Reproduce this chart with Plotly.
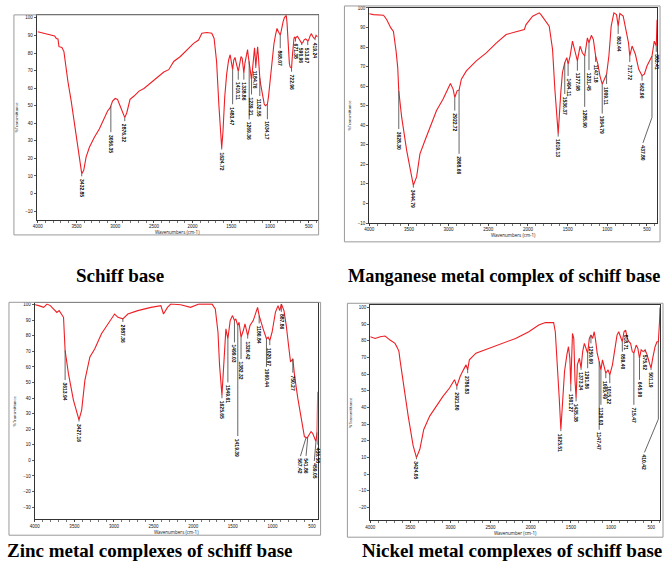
import numpy as np
import plotly.graph_objects as go

W, H = 665, 562

# ---------------- data (wavenumber cm-1, %T) ----------------
schiff_points = [(4000, 92.1), (3910, 91.2), (3825, 90.2), (3782, 89.7), (3761, 88.3), (3739, 88), (3726, 83.6),
                 (3688, 83.1), (3662, 80.8), (3645, 74.2), (3632, 72.4), (3611, 63.9), (3568, 52.6), (3526, 39.5),
                 (3483, 24.4), (3449, 14.1), (3432, 11.3), (3406, 13.2), (3376, 20.7), (3333, 26.3), (3269, 32),
                 (3205, 36.7), (3141, 42.3), (3098, 47), (3064, 48.9), (3034, 52.6), (3000, 54.1), (2970, 53.6),
                 (2936, 49.8), (2906, 46), (2876, 43.2), (2850, 46), (2808, 53.6), (2756, 55.5), (2692, 58.3),
                 (2628, 59.8), (2543, 63), (2457, 65.8), (2372, 69.2), (2308, 70.5), (2244, 75.2), (2158, 78),
                 (2073, 81.8), (1987, 85.5), (1923, 87.4), (1880, 91.2), (1816, 91.7), (1752, 91.2), (1722, 88.3),
                 (1690, 75), (1660, 50), (1640, 33), (1624, 26), (1608, 35), (1585, 55), (1560, 68), (1535, 76),
                 (1515, 79), (1498, 74), (1483, 70.5), (1468, 76), (1452, 77.5), (1440, 75), (1425, 71), (1410, 69.5),
                 (1395, 73), (1375, 78), (1360, 77), (1348, 72), (1338, 68.6), (1325, 74), (1305, 80), (1290, 82),
                 (1280, 78), (1269, 75.2), (1255, 70), (1239, 64.8), (1225, 72), (1210, 82), (1200, 83), (1192, 78),
                 (1184, 72.4), (1172, 78), (1160, 83.5), (1150, 78), (1140, 70), (1132, 65.8), (1120, 62), (1105, 58),
                 (1090, 54), (1075, 51), (1060, 50), (1045, 50.5), (1034, 50.8), (1020, 55), (1005, 62), (990, 70),
                 (970, 78), (950, 85), (930, 90), (910, 94), (890, 92), (880, 90.5), (868, 90.2), (858, 92), (845, 96),
                 (830, 98), (815, 100), (800, 101), (790, 101.5), (780, 97), (770, 88), (760, 80), (750, 74), (740, 72),
                 (730, 71.5), (722, 71.4), (712, 78), (700, 85), (690, 88.5), (680, 89), (671, 88.3), (660, 89),
                 (645, 89.5), (625, 88), (610, 87), (590, 85.5), (575, 86), (560, 87.5), (540, 88), (525, 87.5),
                 (513, 86.5), (500, 87.5), (480, 90), (465, 91), (450, 89.5), (435, 88.5), (419, 88.3), (405, 90),
                 (385, 89)]
schiff_peak_wn = [3432, 3056, 2876, 1624, 1483, 1410, 1338, 1269, 1239, 1184, 1132, 1034, 868, 722, 671, 590, 513, 419]
schiff_label_wn = [3432, 3056, 2876, 1624, 1483, 1410, 1338, 1269, 1239, 1184, 1132, 1034, 868, 722, 671, 590, 513, 419]
schiff_peak_text = ["3432.85", "3056.35", "2876.32", "1624.72", "1483.47", "1410.11", "1338.86", "1269.36", "1239.21",
                    "1184.76", "1132.55", "1034.17", "868.07", "722.96", "671.38", "590.96", "513.67", "419.24"]

mn_points = [(4000, 97), (3946, 96.6), (3820, 96.3), (3779, 94), (3728, 89.8), (3695, 88), (3662, 78), (3641, 69.5),
             (3628, 57.6), (3591, 44), (3528, 27), (3478, 15.3), (3444, 9.3), (3403, 13.6), (3361, 25.4), (3298, 32.2),
             (3236, 39), (3152, 47.5), (3069, 53.4), (3006, 58.5), (2977, 61.4), (2943, 58.5), (2922, 54.2),
             (2893, 57.6), (2868, 58), (2839, 63.6), (2776, 67.8), (2651, 72.9), (2525, 77), (2400, 82), (2275, 86.4),
             (2150, 87.8), (2045, 89), (2024, 91.5), (1941, 95.8), (1857, 97.5), (1836, 96.6), (1732, 90.7),
             (1690, 78.8), (1661, 58.5), (1619, 35.6), (1586, 56.8), (1565, 67), (1536, 72), (1510, 74.6),
             (1494, 71.2), (1469, 75.4), (1439, 83), (1410, 78.8), (1377, 72.9), (1343, 80.5), (1314, 77.1),
             (1285, 75.4), (1251, 84.7), (1231, 82.2), (1201, 86), (1176, 83.9), (1147, 75.4), (1118, 71.2),
             (1093, 65.3), (1064, 61), (1034, 64.4), (1009, 66.1), (980, 75.4), (951, 90.7), (917, 97.5), (884, 96.6),
             (863, 90.7), (842, 97.1), (800, 95.8), (759, 88.1), (733, 82.2), (717, 75.4), (688, 80.5), (646, 76.3),
             (604, 68.6), (562, 65.3), (533, 66.1), (500, 70.3), (458, 73.7), (437, 75.4), (408, 83), (383, 80.5),
             (373, 94)]
mn_peak_wn = [3628, 3444, 2922, 2868, 1619, 1536, 1494, 1377, 1285, 1231, 1147, 1064, 1009, 863, 717, 562, 437, 383]
mn_label_wn = [3628, 3444, 2922, 2868, 1619, 1536, 1494, 1377, 1285, 1231, 1147, 1064, 1009, 863, 717, 562, 550, 383]
mn_peak_text = ["3628.30", "3444.79", "2922.72", "2868.66", "1619.13", "1536.37", "1494.11", "1377.98", "1285.90",
                "1231.45", "1147.18", "1064.79", "1009.11", "863.44", "717.72", "562.96", "437.80", "383.41"]

zn_points = [(4000, 100), (3992, 100), (3950, 99.4), (3888, 98.3), (3846, 100.4), (3804, 99.4), (3762, 97.2),
             (3721, 95), (3692, 96.2), (3658, 93), (3637, 91.9), (3617, 70.6), (3575, 55.7), (3512, 38.7), (3470, 30),
             (3442, 26), (3408, 32.3), (3367, 51.5), (3304, 66.4), (3242, 71.7), (3158, 81.3), (3075, 87.7),
             (3012, 93), (2992, 94), (2950, 91.9), (2888, 90.9), (2825, 94), (2700, 96.2), (2533, 98.3), (2408, 99.4),
             (2375, 94), (2325, 98.3), (2283, 100.4), (2158, 100), (2033, 98.3), (1929, 100.4), (1762, 100.4),
             (1721, 97.2), (1687, 82.3), (1667, 61), (1637, 41.9), (1617, 61), (1587, 84.5), (1562, 78.1),
             (1533, 89.8), (1504, 93), (1479, 89.8), (1462, 90.9), (1437, 86.6), (1421, 88.7), (1396, 79.1),
             (1367, 83.4), (1346, 87.7), (1312, 80.2), (1283, 86.6), (1242, 89.8), (1212, 95.1), (1187, 98.3),
             (1167, 93), (1146, 88.7), (1117, 84.5), (1075, 78.1), (1054, 79.1), (1033, 77), (1004, 82.3), (962, 95.1),
             (929, 99.4), (908, 96.2), (887, 100.4), (854, 96.2), (825, 86.6), (796, 73.8), (771, 63.2), (742, 65.3),
             (721, 54.7), (679, 39.8), (637, 27), (596, 15.3), (562, 14.3), (533, 16.4), (512, 18.5), (492, 17.4),
             (471, 14.3), (450, 12.1), (436, 18), (429, 44)]
zn_peak_wn = [3617, 3442, 2888, 1637, 1562, 1479, 1437, 1396, 1312, 1167, 1075, 1033, 887, 742, 575, 554, 450, 436]
zn_label_wn = [3617, 3442, 2888, 1637, 1562, 1479, 1437, 1396, 1312, 1167, 1075, 1033, 887, 742, 646, 575, 471, 430]
zn_peak_text = ["3613.94", "3427.16", "2887.36", "1625.65", "1549.61", "1499.03", "1419.39", "1382.32", "1326.42",
                "1180.84", "1060.44", "1020.97", "887.86", "750.27", "567.42", "541.86", "459.05", "436.58"]

ni_points = [(4000, 82.5), (3938, 81.5), (3876, 82.5), (3815, 82.9), (3753, 80.5), (3691, 78.5), (3658, 75.5),
             (3642, 73.6), (3629, 68.6), (3588, 54.7), (3527, 34.8), (3465, 16.9), (3424, 9.9), (3382, 14.9),
             (3333, 26.8), (3259, 34.8), (3177, 40.8), (3094, 46.7), (3012, 51.7), (2950, 56.7), (2921, 52.7),
             (2880, 58.6), (2839, 62.6), (2806, 65.6), (2786, 62.6), (2765, 68.6), (2683, 72.6), (2518, 75.5),
             (2353, 78.5), (2189, 81.5), (2024, 85.5), (1900, 89.5), (1818, 91), (1715, 91), (1694, 85.5),
             (1666, 65.6), (1645, 45.7), (1625, 26.8), (1604, 41.7), (1579, 61.6), (1550, 71.6), (1530, 76.5),
             (1513, 69.6), (1501, 53.7), (1480, 84.5), (1464, 81.5), (1448, 55.7), (1435, 45.7), (1419, 65.6),
             (1394, 69.6), (1373, 63.6), (1353, 73.6), (1332, 78.5), (1308, 75.5), (1291, 72.6), (1270, 81.5),
             (1250, 83.5), (1229, 81.5), (1209, 85.5), (1192, 80.5), (1172, 72.6), (1147, 67.6), (1126, 62.6),
             (1106, 68.6), (1085, 63.6), (1065, 60.6), (1036, 62.6), (1015, 59.6), (982, 65.6), (953, 75.5),
             (925, 83.5), (904, 85.5), (883, 82.5), (859, 79.5), (838, 85.5), (818, 86.5), (797, 81.5), (777, 79.5),
             (756, 78.5), (735, 73.6), (715, 72.6), (686, 77.5), (665, 75.5), (645, 69.6), (624, 74.6), (600, 73.6),
             (575, 74.6), (550, 71.6), (521, 66.6), (501, 63.6), (480, 69.6), (451, 76.5), (427, 79.5), (410, 79.5),
             (395, 92), (389, 100)]
ni_peak_wn = [3424, 2921, 2786, 1625, 1501, 1435, 1373, 1291, 1250, 1147, 1126, 1065, 1015, 859, 818, 715, 645, 575,
              501, 410]
ni_label_wn = [3424, 2921, 2786, 1625, 1501, 1435, 1373, 1291, 1250, 1147, 1126, 1065, 1015, 859, 818, 715, 645, 575,
               501, 583]
ni_peak_text = ["3424.05", "2921.80", "2786.83", "1625.51", "1501.27", "1435.38", "1373.34", "1291.86", "1250.60",
                "1147.47", "1126.03", "1065.49", "1015.22", "859.40", "818.71", "715.47", "645.90", "575.62",
                "501.19", "410.42"]

x_tick_vals = [4000, 3500, 3000, 2500, 2000, 1500, 1000, 500]

# ---------------- layout (pixels of the 665x562 page) ----------------
RED = "rgb(238,30,36)"
panels = [
    dict(pts=schiff_points, pk=schiff_peak_wn, lw=schiff_label_wn, tx=schiff_peak_text,
         drop=[1.5, 15, 2, 1, 19.7, 4.7, 3.8, 33, 8.4, 1, 10.3, 8.5, 7.5, 2, 1.8, 1, 2, 1], bend={},
         inner=(32, 13, 315, 220), outer=(9, 13, 316, 235), xr=[4013, 385], yr=[-15.1, 101.7],
         xtitle="Wavenumbers (cm-1)", title="Schiff base", tpos=(116, 276), tsize=19),
    dict(pts=mn_points, pk=mn_peak_wn, lw=mn_label_wn, tx=mn_peak_text,
         drop=[19.5, 1.2, 6.7, 32.6, 1.4, 16, 6, 5, 26, 14, 3, 15, 5, 4, 3, 2.5, 44.4, 3], bend={16: 44},
         inner=(367, 6, 657, 223), outer=(342, 4, 660, 242), xr=[4000, 373], yr=[-10, 100],
         xtitle="Wavenumbers (cm-1)", title="Manganese metal complex of schiff base", tpos=(503, 276),
         tsize=18.3),
    dict(pts=zn_points, pk=zn_peak_wn, lw=zn_label_wn, tx=zn_peak_text,
         drop=[19, 1, 2, 2, 28, 14, 71, 14, 2, 5, 18, 3, 5, 9, 12, 12, 12.5, 8], bend={},
         inner=(30, 304, 315, 522), outer=(4, 303, 318, 538), xr=[4000, 429], yr=[-37.9, 100.9],
         xtitle="Wavenumbers (cm-1)", title="Zinc metal complexes of schiff base", tpos=(146, 553), tsize=19),
    dict(pts=ni_points, pk=ni_peak_wn, lw=ni_label_wn, tx=ni_peak_text,
         drop=[1, 2, 2, 1, 4, 2, 1, 9, 5, 41, 21, 3, 5, 6, 1, 31, 13, 1.5, 1, 66.5], bend={19: 33},
         inner=(368, 306, 660, 523), outer=(345, 304, 663, 540), xr=[4000, 389], yr=[-27.8, 101.4],
         xtitle="Wavenumber (cm-1)", title="Nickel metal complexes of schiff base", tpos=(511, 553), tsize=19),
]


def curve_at(points, wn):
    xs = np.array([p[0] for p in points][::-1], float)
    ys = np.array([p[1] for p in points][::-1], float)
    return float(np.interp(wn, xs, ys))


fig = go.Figure()
layout = dict(width=W, height=H, margin=dict(l=0, r=0, t=0, b=0), paper_bgcolor="white",
              plot_bgcolor="white", showlegend=False, shapes=[], annotations=[])

for i, p in enumerate(panels):
    sfx = "" if i == 0 else str(i + 1)
    xa, ya = "x" + sfx, "y" + sfx
    wn = [q[0] for q in p["pts"]]
    tt = [q[1] for q in p["pts"]]
    fig.add_trace(go.Scatter(x=wn, y=tt, mode="lines", line=dict(color=RED, width=1.1),
                             xaxis=xa, yaxis=ya, hoverinfo="skip"))
    lx, ly = [], []
    for j, w in enumerate(p["pk"]):
        t0 = curve_at(p["pts"], w)
        tend = t0 - p["drop"][j]
        lx.append(w); ly.append(t0)
        if j in p["bend"]:
            lx.append(w); ly.append(p["bend"][j])
        lx.append(p["lw"][j]); ly.append(tend)
        lx.append(None); ly.append(None)
        layout["annotations"].append(dict(
            x=p["lw"][j], y=tend, xref=xa, yref=ya, text="<b>" + p["tx"][j] + "</b>", showarrow=False,
            textangle=90, xanchor="center", yanchor="top", yshift=-0.5,
            font=dict(size=5, color="black", family="Arial")))
    fig.add_trace(go.Scatter(x=lx, y=ly, mode="lines", line=dict(color="#555", width=0.9),
                             xaxis=xa, yaxis=ya, hoverinfo="skip"))

    x0, y0, x1, y1 = p["inner"]
    axis_common = dict(showline=True, mirror=True, linecolor="#333", linewidth=1, showgrid=False,
                       zeroline=False, ticks="outside", ticklen=2, tickwidth=0.8, tickcolor="#333",
                       tickfont=dict(size=4.5, color="#111", family="Arial"))
    layout["xaxis" + sfx] = dict(axis_common, domain=[x0 / W, x1 / W], range=p["xr"], anchor=ya,
                                 tickmode="array", tickvals=x_tick_vals,
                                 minor=dict(tickmode="linear", tick0=0, dtick=100, ticks="outside",
                                            ticklen=1.5, tickcolor="#555"),
                                 title=dict(text=p["xtitle"], font=dict(size=4.5, color="#111"), standoff=1))
    layout["yaxis" + sfx] = dict(axis_common, domain=[1 - y1 / H, 1 - y0 / H], range=p["yr"], anchor=xa,
                                 tickmode="linear", tick0=0, dtick=10,
                                 title=dict(text="%Transmittance", font=dict(size=4, color="#111"), standoff=6))
    ox0, oy0, ox1, oy1 = p["outer"]
    layout["shapes"].append(dict(type="rect", xref="paper", yref="paper", x0=ox0 / W, x1=ox1 / W,
                                 y0=1 - oy1 / H, y1=1 - oy0 / H, line=dict(color="#9a9a9a", width=1)))
    tx_, ty_ = p["tpos"]
    layout["annotations"].append(dict(x=tx_ / W, y=1 - ty_ / H, xref="paper", yref="paper",
                                      text="<b>" + p["title"] + "</b>", showarrow=False,
                                      xanchor="center", yanchor="middle",
                                      font=dict(size=p["tsize"], color="black",
                                                family="Liberation Serif, Times New Roman, serif")))

fig.update_layout(**layout)
fig.write_html("out.html", config={"displayModeBar": False, "staticPlot": True},
               post_script="document.body.style.margin='0px';document.body.style.overflow='hidden';")
